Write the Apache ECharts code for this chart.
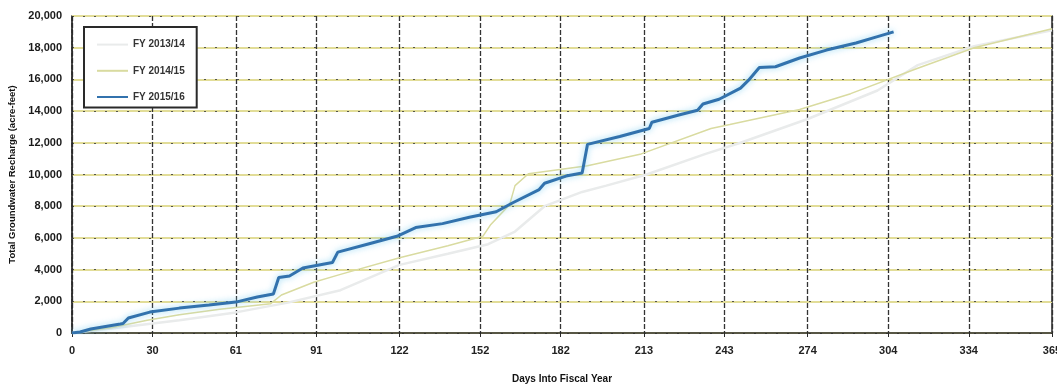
<!DOCTYPE html>
<html>
<head>
<meta charset="utf-8">
<script src="https://cdn.jsdelivr.net/npm/echarts@6/dist/echarts.min.js"></script>
<style>
  html, body { margin: 0; padding: 0; background: #fff; }
  #chart { width: 1057px; height: 384px; }
</style>
</head>
<body>
<div id="chart"></div>
<script>
// Cumulative recharge by day of fiscal year: [day, acre-feet]
const fy1314 = [[0,0],[20,400],[40,800],[61,1300],[80,1900],[100,2700],[122,4300],[140,5000],[155,5600],[165,6400],[176,8000],[190,8900],[199,9300],[214,10000],[236,11300],[249,12000],[274,13500],[300,15300],[315,16900],[336,18100],[365,19100]];
const fy1415 = [[0,0],[15,350],[28,800],[40,1150],[55,1500],[74,1850],[78,2400],[90,3200],[100,3700],[122,4750],[140,5500],[153,6100],[156,6850],[163,8100],[165,9300],[170,10050],[192,10550],[212,11300],[238,12900],[245,13150],[271,14100],[290,15100],[315,16700],[336,18000],[365,19200]];
const fy1516 = [[0,0],[3,60],[7,250],[18,570],[19,600],[21,950],[29,1320],[40,1570],[51,1760],[61,1950],[69,2270],[75,2460],[77,3500],[81,3600],[86,4100],[97,4450],[99,5100],[110,5600],[121,6100],[128,6650],[138,6900],[148,7300],[158,7650],[164,8200],[174,9050],[176,9450],[184,9900],[190,10100],[192,11900],[204,12400],[215,12900],[216,13300],[226,13750],[233,14050],[235,14450],[241,14750],[249,15450],[252,15950],[256,16750],[262,16800],[271,17350],[281,17850],[292,18300],[300,18700],[306,19000]];

const seriesNames = ['FY 2013/14', 'FY 2014/15', 'FY 2015/16'];
const xTicks = [0, 30, 61, 91, 122, 152, 182, 213, 243, 274, 304, 334, 365];
const xTickColors = ['#c0282a','#1a1a1a','#1a1a1a','#555555','#9b2c4a','#8e2a44','#8e2a44','#555555','#7a2a55','#7a2a55','#333333','#444444','#7a1f5a'];

const chart = echarts.init(document.getElementById('chart'), null, { renderer: 'canvas' });

const boldFont = { fontFamily: 'Liberation Sans', fontWeight: 'bold' };

chart.setOption({
  animation: false,
  backgroundColor: '#ffffff',
  grid: {
    left: 72, right: 5, top: 16, bottom: 51,
    outerBoundsMode: 'none',
    containLabel: false,
    show: true, borderColor: '#2a2a2a', borderWidth: 1.5
  },
  legend: {
    orient: 'vertical',
    left: 84, top: 27,
    padding: [12, 12, 5, 12],
    itemGap: 15,
    itemWidth: 31, itemHeight: 14,
    backgroundColor: '#ffffff',
    borderColor: '#2a2a2a', borderWidth: 2,
    itemStyle: { opacity: 0 },
    textStyle: Object.assign({ fontSize: 10, color: '#333' }, boldFont),
    data: seriesNames
  },
  xAxis: {
    type: 'value',
    min: 0, max: 365,
    name: 'Days Into Fiscal Year',
    nameLocation: 'middle',
    nameGap: 41,
    nameTextStyle: Object.assign({ fontSize: 10, color: '#111' }, boldFont),
    axisLine: { show: true, lineStyle: { color: '#2a2a2a', width: 1.5 } },
    axisTick: { show: true, customValues: xTicks, length: 4, lineStyle: { color: '#2a2a2a' } },
    axisLabel: {
      customValues: xTicks,
      margin: 12,
      fontSize: 11,
      fontFamily: 'Liberation Sans', fontWeight: 'bold',
      hideOverlap: false,
      color: function (v) {
        const i = xTicks.indexOf(v);
        return i >= 0 ? xTickColors[i] : '#222';
      }
    },
    splitLine: { show: true, lineStyle: { color: '#333333', width: 1.3, type: [5, 2] } }
  },
  yAxis: [
    {
      type: 'value',
      min: 0, max: 20000, interval: 2000,
      name: 'Total Groundwater Recharge (acre-feet)',
      nameLocation: 'middle',
      nameGap: 54,
      nameTextStyle: Object.assign({ fontSize: 9.5, color: '#111' }, boldFont),
      axisLine: { show: true, lineStyle: { color: '#2a2a2a', width: 1.5, type: [4, 2] } },
      axisTick: { show: false },
      axisLabel: {
        margin: 10, fontSize: 11, color: '#1a1a1a',
        fontFamily: 'Liberation Sans', fontWeight: 'bold',
        formatter: function (v) { return v.toLocaleString('en-US'); }
      },
      splitLine: { show: true, lineStyle: { color: '#e2dd98', width: 2 } }
    },
    {
      // dark speckled overlay on the horizontal grid
      type: 'value',
      min: 0, max: 20000, interval: 2000,
      axisLine: { show: false },
      axisTick: { show: false },
      axisLabel: { show: false },
      splitLine: { show: true, lineStyle: { color: '#55554a', width: 1, type: [2, 9] } }
    }
  ],
  series: [
    {
      name: seriesNames[0], type: 'line', data: fy1314,
      symbol: 'none', z: 3,
      lineStyle: { color: '#e9ebeb', width: 2.5 },
      itemStyle: { color: '#e9ebeb' }
    },
    {
      name: seriesNames[1], type: 'line', data: fy1415,
      symbol: 'none', z: 4,
      lineStyle: { color: '#d9dba0', width: 1.5 },
      itemStyle: { color: '#c9dbb3' }
    },
    {
      name: seriesNames[2], type: 'line', data: fy1516,
      symbol: 'none', z: 5,
      lineStyle: { color: '#3272ad', width: 3, shadowColor: 'rgba(120,205,240,0.8)', shadowBlur: 6 },
      itemStyle: { color: '#3272ad' }
    }
  ]
});
</script>
</body>
</html>
